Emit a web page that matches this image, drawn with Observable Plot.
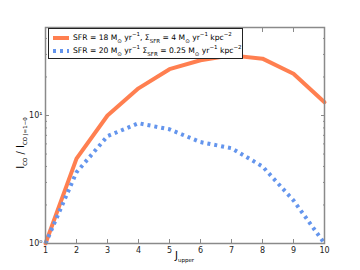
<!DOCTYPE html>
<html><head><meta charset="utf-8">
<script src="https://cdn.jsdelivr.net/npm/d3@7"></script>
<script src="https://cdn.jsdelivr.net/npm/@observablehq/plot@0.6"></script>
<style>
body{margin:0;background:#fff;font-family:"DejaVu Sans",sans-serif;}
#wrap{position:relative;width:360px;height:270px;}
#legend{position:absolute;left:48px;top:28px;width:193px;height:29px;border:1px solid #222;background:#fff;font-size:7.6px;color:#000;}
.row{position:absolute;left:0;height:12px;white-space:nowrap;}
.row span.t{position:absolute;left:24px;top:0;line-height:12px;}
sub,sup{font-size:5.5px;line-height:0;}
#ylab{position:absolute;left:20px;top:143px;transform:translate(-50%,-50%) rotate(-90deg);font-size:10px;white-space:nowrap;}
#xlab{position:absolute;left:175px;top:250px;font-size:10px;white-space:nowrap;}
</style></head>
<body><div id="wrap"></div>
<script>
const J = [1,2,3,4,5,6,7,8,9,10];
const sfr18 = [1, 4.6, 10, 16.3, 23, 27, 29.5, 27.8, 21.2, 12.7];
const sfr20 = [1, 3.6, 6.9, 8.7, 7.8, 6.2, 5.55, 4.0, 2.17, 1.0];
const xTicks = [1,2,3,4,5,6,7,8,9,10];
const yMajor = [1, 10];
const yMinor = [2,3,4,5,6,7,8,9,20,30,40];
const yLabels = ["10\u2070", "10\u00b9"];
const series = [
  {name: "SFR = 18", color: "#ff7f50", values: sfr18},
  {name: "SFR = 20", color: "#6495ed", values: sfr20}
];
const rows = series.flatMap(s => J.map((j, i) => ({J: j, v: s.values[i], s: s.name})));
const axCol = "#8a8a8a";
const blank = () => "";
const plot = Plot.plot({
  width: 360, height: 270,
  marginLeft: 45, marginRight: 36, marginTop: 27, marginBottom: 27,
  style: {fontFamily: "DejaVu Sans", fontSize: "8px", color: "#222", background: "#fff"},
  x: {domain: [1, 10]},
  y: {type: "log", domain: [1, 48.7]},
  marks: [
    Plot.line(rows.filter(d => d.s === "SFR = 18"), {x: "J", y: "v", stroke: series[0].color, strokeWidth: 4, strokeLinejoin: "miter"}),
    Plot.line(rows.filter(d => d.s === "SFR = 20"), {x: "J", y: "v", stroke: series[1].color, strokeWidth: 4, strokeDasharray: "3,4", strokeLinecap: "butt"}),
    Plot.axisX({anchor: "bottom", ticks: xTicks, tickSize: -4, tickFormat: blank, label: null, stroke: axCol}),
    Plot.axisX({anchor: "top", ticks: xTicks, tickSize: -4, tickFormat: blank, label: null, stroke: axCol}),
    Plot.axisX({anchor: "bottom", ticks: xTicks, tickSize: 0, tickPadding: 4, label: null, fill: "#222"}),
    Plot.axisY({anchor: "left", ticks: yMajor, tickSize: -4, tickFormat: blank, label: null, stroke: axCol}),
    Plot.axisY({anchor: "right", ticks: yMajor, tickSize: -4, tickFormat: blank, label: null, stroke: axCol}),
    Plot.axisY({anchor: "left", ticks: yMinor, tickSize: -2, tickFormat: blank, label: null, stroke: axCol}),
    Plot.axisY({anchor: "right", ticks: yMinor, tickSize: -2, tickFormat: blank, label: null, stroke: axCol}),
    Plot.axisY({anchor: "left", ticks: yMajor, tickSize: 0, tickPadding: 3, label: null, fill: "#222",
      tickFormat: d => yLabels[yMajor.indexOf(d)]}),
    Plot.frame({stroke: axCol, strokeWidth: 1.5})
  ]
});
const wrap = document.getElementById("wrap");
wrap.appendChild(plot);
const leg = document.createElement("div");
leg.id = "legend";
leg.innerHTML = `
<div class="row" style="top:3px;width:100%"><svg width="22" height="12" style="position:absolute;left:2px;top:0"><line x1="2" x2="18" y1="6" y2="6" stroke="${series[0].color}" stroke-width="4"/></svg><span class="t">SFR = 18 M<sub>\u2299</sub> yr<sup>\u22121</sup>, \u03a3<sub>SFR</sub> = 4 M<sub>\u2299</sub> yr<sup>\u22121</sup> kpc<sup>\u22122</sup></span></div>
<div class="row" style="top:16px;width:100%"><svg width="22" height="12" style="position:absolute;left:2px;top:0"><line x1="2" x2="18" y1="6" y2="6" stroke="${series[1].color}" stroke-width="4" stroke-dasharray="3,4"/></svg><span class="t">SFR = 20 M<sub>\u2299</sub> yr<sup>\u22121</sup> \u03a3<sub>SFR</sub> = 0.25 M<sub>\u2299</sub> yr<sup>\u22121</sup> kpc<sup>\u22122</sup></span></div>`;
wrap.appendChild(leg);
const yl = document.createElement("div");
yl.id = "ylab";
yl.innerHTML = "I<sub>CO</sub> / I<sub>CO J=1\u22120</sub>";
wrap.appendChild(yl);
const xl = document.createElement("div");
xl.id = "xlab";
xl.innerHTML = "J<sub>upper</sub>";
wrap.appendChild(xl);
</script>
</body></html>
